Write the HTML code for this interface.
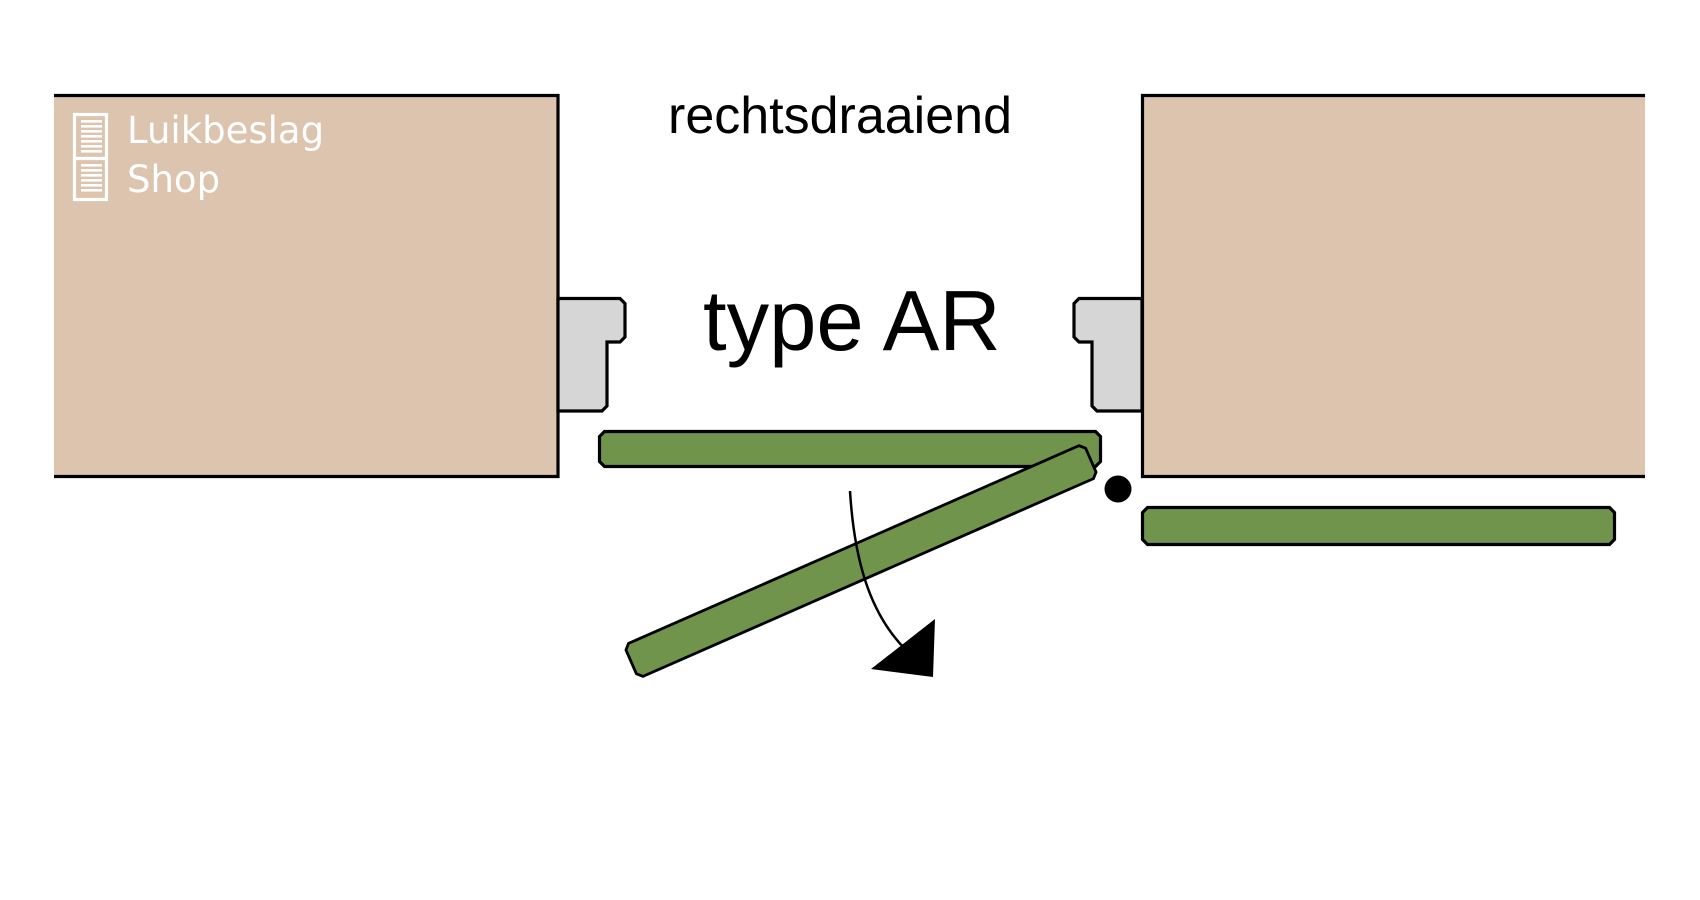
<!DOCTYPE html>
<html>
<head>
<meta charset="utf-8">
<style>
  html, body { margin: 0; padding: 0; background: #ffffff; }
  body { width: 1700px; height: 900px; overflow: hidden; }
  svg { display: block; }
</style>
</head>
<body>
<svg width="1700" height="900" viewBox="0 0 1700 900" xmlns="http://www.w3.org/2000/svg">
  <rect x="0" y="0" width="1700" height="900" fill="#ffffff"/>

  <!-- Left wall block -->
  <rect x="54" y="94" width="504" height="384" fill="#DCC4AE"/>
  <path d="M54,95.5 H558 V476.5 H54" fill="none" stroke="#000" stroke-width="3.2"/>

  <!-- Right wall block -->
  <rect x="1142" y="94" width="503" height="384" fill="#DCC4AE"/>
  <path d="M1645,95.5 H1142.5 V476.5 H1645" fill="none" stroke="#000" stroke-width="3.2"/>

  <!-- Left hinge block -->
  <polygon points="558,298.5 620,298.5 625,303.5 625,337 620,342 607,342 607,406 602,411 558,411"
           fill="#D6D6D6" stroke="#000" stroke-width="3.2" stroke-linejoin="miter"/>
  <!-- Right hinge block -->
  <polygon points="1142,298.5 1079,298.5 1074,303.5 1074,337 1079,342 1092,342 1092,406 1097,411 1142,411"
           fill="#D6D6D6" stroke="#000" stroke-width="3.2" stroke-linejoin="miter"/>

  <!-- Top closed shutter -->
  <polygon points="604.5,431.5 1095.5,431.5 1100.5,436.5 1100.5,461.5 1095.5,466.5 604.5,466.5 599.5,461.5 599.5,436.5"
           fill="#70944B" stroke="#000" stroke-width="3.2"/>

  <!-- Lower right shutter -->
  <polygon points="1147.5,507.5 1609.5,507.5 1614.5,512.5 1614.5,539.5 1609.5,544.5 1147.5,544.5 1142.5,539.5 1142.5,512.5"
           fill="#70944B" stroke="#000" stroke-width="3.2"/>

  <!-- Rotated (opening) shutter -->
  <g transform="translate(861,561) rotate(-23.7)">
    <polygon points="-246,-18 246,-18 251,-13 251,13 246,18 -246,18 -251,13 -251,-13"
             fill="#70944B" stroke="#000" stroke-width="2.8"/>
  </g>

  <!-- Pivot dot -->
  <circle cx="1118" cy="489" r="13.5" fill="#000"/>

  <!-- Curved arrow -->
  <path d="M850,491 C854,556 868,612 906,650" fill="none" stroke="#000" stroke-width="2.5"/>
  <polygon points="935,619 933,677 871,669" fill="#000"/>

  <!-- Texts -->
  <text x="668" y="133" font-family="'Liberation Sans', Arial, sans-serif" font-size="52" fill="#000">rechtsdraaiend</text>
  <text x="703" y="350" font-family="'Liberation Sans', Arial, sans-serif" font-size="85" fill="#000">type AR</text>

  <!-- Logo -->
  <g fill="none" stroke="#ffffff">
    <rect x="74.5" y="114.5" width="32" height="85" stroke-width="3.2"/>
    <line x1="74.5" y1="158.5" x2="106.5" y2="158.5" stroke-width="3.2"/>
  </g>
  <g fill="#ffffff">
    <rect x="81" y="120" width="21" height="2.6"/>
    <rect x="81" y="125" width="21" height="2.6"/>
    <rect x="81" y="130" width="21" height="2.6"/>
    <rect x="81" y="135" width="21" height="2.6"/>
    <rect x="81" y="140" width="21" height="2.6"/>
    <rect x="81" y="145" width="21" height="2.6"/>
    <rect x="81" y="150" width="21" height="2.6"/>
    <rect x="81" y="164" width="21" height="2.6"/>
    <rect x="81" y="169" width="21" height="2.6"/>
    <rect x="81" y="174" width="21" height="2.6"/>
    <rect x="81" y="179" width="21" height="2.6"/>
    <rect x="81" y="184" width="21" height="2.6"/>
    <rect x="81" y="189" width="21" height="2.6"/>
  </g>
  <text x="127" y="143" font-family="'DejaVu Sans', 'Liberation Sans', sans-serif" font-size="37" fill="#ffffff">Luikbeslag</text>
  <text x="127" y="192" font-family="'DejaVu Sans', 'Liberation Sans', sans-serif" font-size="37" fill="#ffffff">Shop</text>
</svg>
</body>
</html>
